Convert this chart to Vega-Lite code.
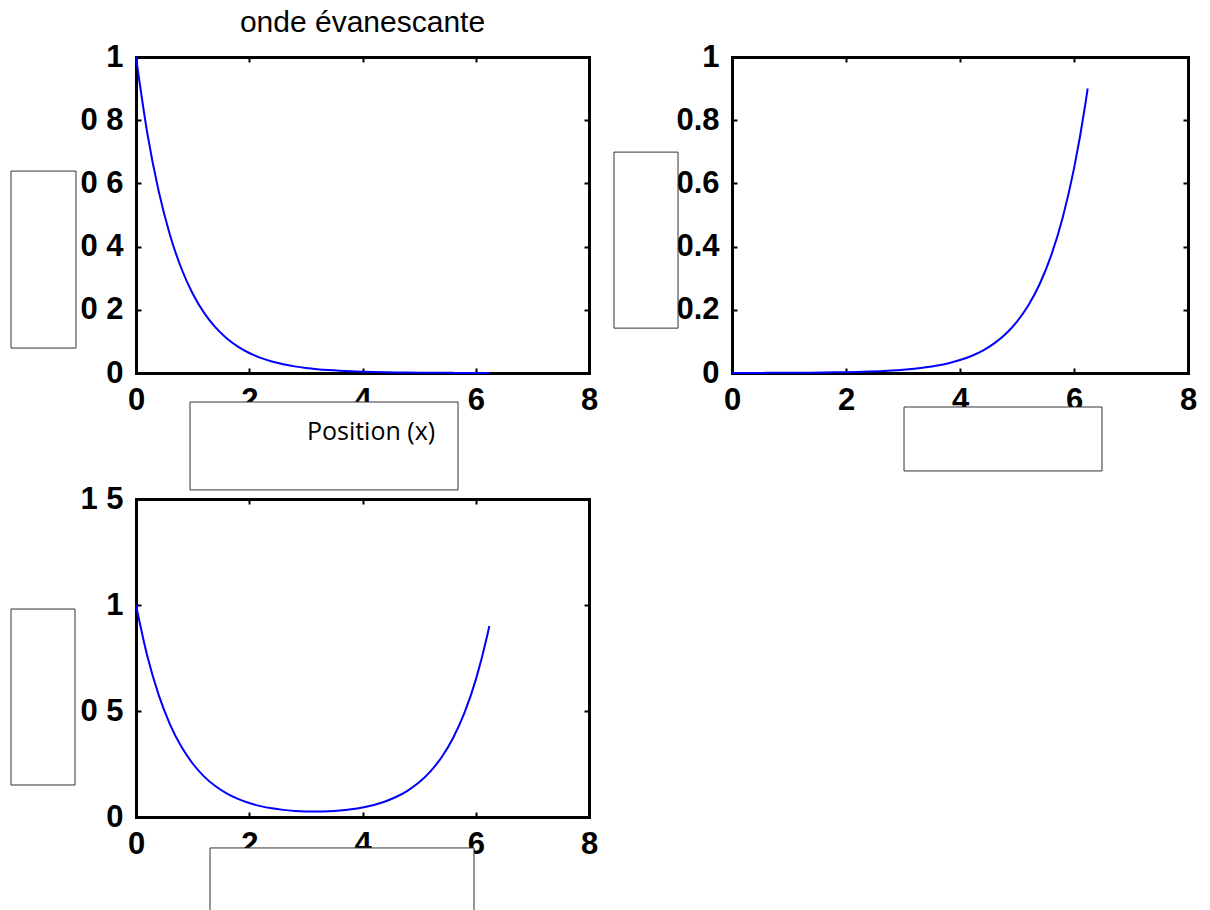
{
  "$schema": "https://vega.github.io/schema/vega-lite/v6.json",
  "padding": {"left": 10, "top": 8, "right": 5, "bottom": 0},
  "background": "white",
  "config": {
    "view": {"stroke": null},
    "axis": {
      "grid": false,
      "title": null,
      "domainColor": "black",
      "domainWidth": 3,
      "domainCap": "square",
      "tickColor": "black",
      "tickWidth": 2,
      "tickSize": -5,
      "labelFont": "Liberation Sans",
      "labelFontSize": 31,
      "labelFontWeight": "bold",
      "labelColor": "black",
      "labelFlush": false,
      "labelOverlap": false
    }
  },
  "datasets": {
    "curves": [
      {"x": 0.0, "f": 1.0, "g": 0.0002, "h": 1.0002},
      {"x": 0.2, "f": 0.7588, "g": 0.0002, "h": 0.759},
      {"x": 0.4, "f": 0.5758, "g": 0.0003, "h": 0.5761},
      {"x": 0.6, "f": 0.4369, "g": 0.0004, "h": 0.4373},
      {"x": 0.8, "f": 0.3315, "g": 0.0005, "h": 0.332},
      {"x": 1.0, "f": 0.2516, "g": 0.0007, "h": 0.2523},
      {"x": 1.2, "f": 0.1909, "g": 0.0009, "h": 0.1918},
      {"x": 1.4, "f": 0.1449, "g": 0.0011, "h": 0.146},
      {"x": 1.6, "f": 0.1099, "g": 0.0015, "h": 0.1114},
      {"x": 1.8, "f": 0.0834, "g": 0.002, "h": 0.0854},
      {"x": 2.0, "f": 0.0633, "g": 0.0026, "h": 0.0659},
      {"x": 2.2, "f": 0.048, "g": 0.0034, "h": 0.0514},
      {"x": 2.4, "f": 0.0364, "g": 0.0045, "h": 0.0409},
      {"x": 2.6, "f": 0.0277, "g": 0.0059, "h": 0.0336},
      {"x": 2.8, "f": 0.021, "g": 0.0078, "h": 0.0288},
      {"x": 3.0, "f": 0.0159, "g": 0.0103, "h": 0.0262},
      {"x": 3.2, "f": 0.0121, "g": 0.0136, "h": 0.0257},
      {"x": 3.4, "f": 0.0092, "g": 0.0179, "h": 0.0271},
      {"x": 3.6, "f": 0.007, "g": 0.0236, "h": 0.0306},
      {"x": 3.8, "f": 0.0053, "g": 0.0311, "h": 0.0364},
      {"x": 4.0, "f": 0.004, "g": 0.0409, "h": 0.0449},
      {"x": 4.2, "f": 0.003, "g": 0.0539, "h": 0.0569},
      {"x": 4.4, "f": 0.0023, "g": 0.0711, "h": 0.0734},
      {"x": 4.6, "f": 0.0017, "g": 0.0937, "h": 0.0954},
      {"x": 4.8, "f": 0.0013, "g": 0.1234, "h": 0.1247},
      {"x": 5.0, "f": 0.001, "g": 0.1627, "h": 0.1637},
      {"x": 5.2, "f": 0.0008, "g": 0.2144, "h": 0.2152},
      {"x": 5.4, "f": 0.0006, "g": 0.2825, "h": 0.2831},
      {"x": 5.6, "f": 0.0004, "g": 0.3723, "h": 0.3727},
      {"x": 5.8, "f": 0.0003, "g": 0.4906, "h": 0.4909},
      {"x": 6.0, "f": 0.0003, "g": 0.6466, "h": 0.6469},
      {"x": 6.2, "f": 0.0002, "g": 0.852, "h": 0.8522},
      {"x": 6.24, "f": 0.0002, "g": 0.9004, "h": 0.9006}
    ],
    "boxes": [
      {"panel": 1, "x1": -2.207, "x2": -1.06, "y1": 0.639, "y2": 0.079},
      {"panel": 1, "x1": 0.954, "x2": 5.687, "y1": -0.0918, "y2": -0.37},
      {"panel": 2, "x1": -2.07, "x2": -0.947, "y1": 0.699, "y2": 0.142},
      {"panel": 2, "x1": 3.018, "x2": 6.491, "y1": -0.1076, "y2": -0.31},
      {"panel": 3, "x1": -2.207, "x2": -1.077, "y1": 0.981, "y2": 0.151},
      {"panel": 3, "x1": 1.307, "x2": 5.969, "y1": -0.146, "y2": -0.5}
    ],
    "notes": [
      {"panel": 1, "x": 4.15, "y": -0.187, "text": "Position (x)"}
    ]
  },
  "columns": 2,
  "spacing": {"row": 126, "column": 143},
  "bounds": "flush",
  "concat": [
    {
      "width": 453,
      "height": 316,
      "title": {"text": "onde évanescante", "font": "Liberation Sans", "fontSize": 30, "fontWeight": "normal", "color": "black", "anchor": "middle", "offset": 3},
      "layer": [
        {
          "data": {"name": "curves"},
          "mark": {"type": "line", "color": "#0000ff", "strokeWidth": 2, "interpolate": "monotone", "clip": false},
          "encoding": {
            "x": {"field": "x", "type": "quantitative", "scale": {"domain": [0, 8], "nice": false}, "axis": {"orient": "bottom", "values": [0, 2, 4, 6, 8], "labelPadding": 17}},
            "y": {"field": "f", "type": "quantitative", "scale": {"domain": [0, 1], "nice": false, "zero": false}, "axis": {"orient": "left", "values": [0, 0.2, 0.4, 0.6, 0.8, 1], "labelPadding": 18, "labelExpr": "datum.value == 0 ? '0' : datum.value == 1 ? '1' : replace(format(datum.value, '.1f'), '.', ' ')"}}
          }
        },
        {
          "data": {"name": "boxes"},
          "transform": [{"filter": "datum.panel == 1"}],
          "mark": {"type": "rect", "fill": "white", "stroke": "#333333", "strokeWidth": 1, "clip": false},
          "encoding": {
            "x": {"field": "x1", "type": "quantitative", "scale": {"domain": [0, 8], "nice": false}, "axis": {"orient": "top", "values": [2, 4, 6], "labels": false}},
            "x2": {"field": "x2"},
            "y": {"field": "y1", "type": "quantitative", "scale": {"domain": [0, 1], "nice": false, "zero": false}, "axis": {"orient": "right", "values": [0.2, 0.4, 0.6, 0.8], "labels": false}},
            "y2": {"field": "y2"}
          }
        },
        {
          "data": {"name": "notes"},
          "mark": {"type": "text", "font": "Open Sans", "fontSize": 25, "color": "black", "align": "center", "baseline": "middle", "clip": false},
          "encoding": {
            "x": {"field": "x", "type": "quantitative", "scale": {"domain": [0, 8], "nice": false}, "axis": null},
            "y": {"field": "y", "type": "quantitative", "scale": {"domain": [0, 1], "nice": false, "zero": false}, "axis": null},
            "text": {"field": "text"}
          }
        }
      ],
      "resolve": {"axis": {"x": "independent", "y": "independent"}}
    },
    {
      "width": 456,
      "height": 316,
      "layer": [
        {
          "data": {"name": "curves"},
          "mark": {"type": "line", "color": "#0000ff", "strokeWidth": 2, "interpolate": "monotone", "clip": false},
          "encoding": {
            "x": {"field": "x", "type": "quantitative", "scale": {"domain": [0, 8], "nice": false}, "axis": {"orient": "bottom", "values": [0, 2, 4, 6, 8], "labelPadding": 17}},
            "y": {"field": "g", "type": "quantitative", "scale": {"domain": [0, 1], "nice": false, "zero": false}, "axis": {"orient": "left", "values": [0, 0.2, 0.4, 0.6, 0.8, 1], "labelPadding": 18, "labelExpr": "datum.value == 0 ? '0' : datum.value == 1 ? '1' : format(datum.value, '.1f')"}}
          }
        },
        {
          "data": {"name": "boxes"},
          "transform": [{"filter": "datum.panel == 2"}],
          "mark": {"type": "rect", "fill": "white", "stroke": "#333333", "strokeWidth": 1, "clip": false},
          "encoding": {
            "x": {"field": "x1", "type": "quantitative", "scale": {"domain": [0, 8], "nice": false}, "axis": {"orient": "top", "values": [2, 4, 6], "labels": false}},
            "x2": {"field": "x2"},
            "y": {"field": "y1", "type": "quantitative", "scale": {"domain": [0, 1], "nice": false, "zero": false}, "axis": {"orient": "right", "values": [0.2, 0.4, 0.6, 0.8], "labels": false}},
            "y2": {"field": "y2"}
          }
        }
      ],
      "resolve": {"axis": {"x": "independent", "y": "independent"}}
    },
    {
      "width": 453,
      "height": 318,
      "layer": [
        {
          "data": {"name": "curves"},
          "mark": {"type": "line", "color": "#0000ff", "strokeWidth": 2, "interpolate": "monotone", "clip": false},
          "encoding": {
            "x": {"field": "x", "type": "quantitative", "scale": {"domain": [0, 8], "nice": false}, "axis": {"orient": "bottom", "values": [0, 2, 4, 6, 8], "labelPadding": 17}},
            "y": {"field": "h", "type": "quantitative", "scale": {"domain": [0, 1.5], "nice": false, "zero": false}, "axis": {"orient": "left", "values": [0, 0.5, 1, 1.5], "labelPadding": 18, "labelExpr": "datum.value == 0 ? '0' : datum.value == 1 ? '1' : replace(format(datum.value, '.1f'), '.', ' ')"}}
          }
        },
        {
          "data": {"name": "boxes"},
          "transform": [{"filter": "datum.panel == 3"}],
          "mark": {"type": "rect", "fill": "white", "stroke": "#333333", "strokeWidth": 1, "clip": false},
          "encoding": {
            "x": {"field": "x1", "type": "quantitative", "scale": {"domain": [0, 8], "nice": false}, "axis": {"orient": "top", "values": [2, 4, 6], "labels": false}},
            "x2": {"field": "x2"},
            "y": {"field": "y1", "type": "quantitative", "scale": {"domain": [0, 1.5], "nice": false, "zero": false}, "axis": {"orient": "right", "values": [0.5, 1], "labels": false}},
            "y2": {"field": "y2"}
          }
        }
      ],
      "resolve": {"axis": {"x": "independent", "y": "independent"}}
    }
  ]
}
